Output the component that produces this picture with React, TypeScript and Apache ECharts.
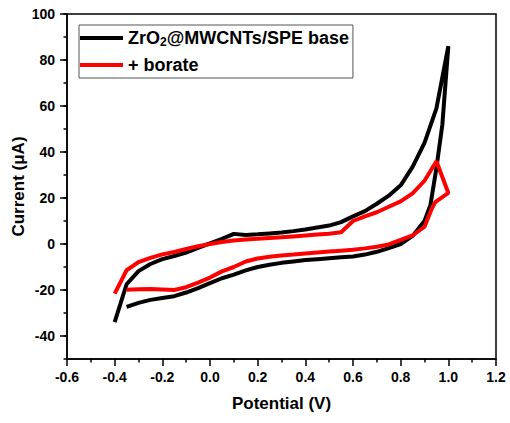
import React, { useEffect, useRef } from "react";
import * as echarts from "echarts";

const FONT = '"Liberation Sans", Arial, Helvetica, sans-serif';

const seriesNames = ["ZrO2@MWCNTs/SPE base", "+ borate"];

const blackV = [
  -0.35, -0.3, -0.25, -0.2, -0.15, -0.1, -0.05, 0, 0.05, 0.1, 0.15, 0.2, 0.25, 0.3, 0.35, 0.4, 0.45, 0.5, 0.55, 0.6,
  0.65, 0.7, 0.75, 0.8, 0.85, 0.9, 0.925, 0.95, 0.975, 1.0,
  0.95, 0.9, 0.85, 0.8, 0.75, 0.7, 0.65, 0.6, 0.55, 0.5, 0.45, 0.4, 0.35, 0.3, 0.25, 0.2, 0.15, 0.1, 0.05, 0,
  -0.05, -0.1, -0.15, -0.2, -0.25, -0.3, -0.35, -0.4,
];
const blackI = [
  -27.3, -25.6, -24.3, -23.5, -22.7, -21.1, -19.2, -17, -14.9, -13.3, -11.5, -10, -9, -8.2, -7.6, -7, -6.6, -6.2, -5.8, -5.4,
  -4.6, -3.4, -1.8, 0, 3.5, 10, 17, 33, 52, 86,
  59, 44, 33.5, 25.5, 21, 17.5, 14.3, 12, 9.5, 8, 7.2, 6.3, 5.6, 5, 4.6, 4.2, 3.9, 4.4, 2.2, 0.3,
  -1.7, -3.7, -5.2, -6.6, -8.7, -11.8, -17.5, -34,
];

const redV = [
  -0.35, -0.3, -0.25, -0.2, -0.15, -0.1, -0.05, 0, 0.05, 0.1, 0.15, 0.2, 0.25, 0.3, 0.35, 0.4, 0.45, 0.5, 0.55, 0.6,
  0.65, 0.7, 0.75, 0.8, 0.85, 0.9, 0.93, 0.945, 1.0,
  0.95, 0.9, 0.85, 0.8, 0.75, 0.7, 0.65, 0.6, 0.55, 0.5, 0.45, 0.4, 0.35, 0.3, 0.25, 0.2, 0.15, 0.1, 0.05, 0,
  -0.05, -0.1, -0.15, -0.2, -0.25, -0.3, -0.35, -0.4,
];
const redI = [
  -19.9, -19.7, -19.6, -19.8, -20, -18.8, -16.8, -14.6, -11.9, -10, -7.6, -6.3, -5.5, -5, -4.6, -4.1, -3.7, -3.3, -2.9, -2.5,
  -1.9, -1.2, -0.2, 1.8, 3.7, 7.5, 15.2, 18.2, 22.2,
  36, 27.5, 22, 18.5, 16.2, 13.8, 12, 10, 5.1, 4.5, 4.1, 3.7, 3.3, 2.9, 2.6, 2.3, 2, 1.5, 0.9, 0,
  -1, -2.2, -3.5, -4.5, -6, -7.9, -11.4, -21.6,
];

const xMin = -0.6;
const xMax = 1.2;
const xStep = 0.2;
const yMin = -50;
const yMax = 100;
const yLabelMin = -40;
const yLabelStep = 20;

const pairs = (xs: number[], ys: number[]) => xs.map((x, i) => [x, ys[i]]);

export default function App() {
  const ref = useRef<HTMLDivElement>(null);
  useEffect(() => {
    if (!ref.current) return;
    const chart = echarts.init(ref.current, undefined, { renderer: "svg" });
    const H = 423;
    const gridTop = 14;
    const gridBottom = 64;
    const plotH = H - gridTop - gridBottom;
    const yOfLabelMin = gridTop + ((yMax - yLabelMin) / (yMax - yMin)) * plotH;
    const labelStyle = { color: "#000", fontSize: 14, fontWeight: "bold" as const, fontFamily: FONT };
    const nameStyle = { color: "#000", fontSize: 17, fontWeight: "bold" as const, fontFamily: FONT };
    const lineStyleAxis = { color: "#000", width: 1.5 };
    chart.setOption({
      animation: false,
      backgroundColor: "#fff",
      grid: [
        { left: 67, right: 14, top: gridTop, bottom: gridBottom, show: true, borderColor: "#000", borderWidth: 1.5, backgroundColor: "transparent" },
        { left: 67, right: 14, top: gridTop, bottom: H - yOfLabelMin, show: false },
      ],
      legend: {
        orient: "vertical",
        left: 79,
        top: 25,
        padding: [3, 4, 3, 1],
        itemGap: 7,
        itemWidth: 43,
        itemHeight: 4,
        icon: "rect",
        backgroundColor: "#fff",
        borderColor: "#555",
        borderWidth: 1,
        data: seriesNames,
        formatter: (name: string) => (name === seriesNames[0] ? "ZrO{sub|2}@MWCNTs/SPE base" : name),
        textStyle: {
          color: "#000",
          fontSize: 18,
          fontWeight: "bold",
          fontFamily: FONT,
          lineHeight: 20,
          rich: {
            sub: { fontSize: 12, lineHeight: 12, verticalAlign: "bottom", fontWeight: "bold", fontFamily: FONT, color: "#000" },
          },
        },
      },
      xAxis: [
        {
          type: "value",
          gridIndex: 0,
          min: xMin,
          max: xMax,
          interval: xStep,
          name: "Potential (V)",
          nameLocation: "middle",
          nameGap: 36,
          nameTextStyle: nameStyle,
          axisLine: { show: true, onZero: false, lineStyle: lineStyleAxis },
          axisTick: { show: true, length: 7, lineStyle: lineStyleAxis },
          minorTick: { show: true, splitNumber: 2, length: 3.5, lineStyle: lineStyleAxis },
          splitLine: { show: false },
          minorSplitLine: { show: false },
          axisLabel: { ...labelStyle, margin: 11, formatter: (v: number) => v.toFixed(1) },
        },
        { type: "value", gridIndex: 1, min: xMin, max: xMax, show: false, axisLine: { onZero: false } },
      ],
      yAxis: [
        {
          type: "value",
          gridIndex: 0,
          min: yMin,
          max: yMax,
          interval: 10,
          name: "Current (μA)",
          nameLocation: "middle",
          nameGap: 40,
          nameTextStyle: nameStyle,
          axisLine: { show: true, onZero: false, lineStyle: lineStyleAxis },
          axisTick: { show: true, length: 3.5, lineStyle: lineStyleAxis },
          axisLabel: { show: false },
          splitLine: { show: false },
        },
        {
          type: "value",
          gridIndex: 1,
          min: yLabelMin,
          max: yMax,
          interval: yLabelStep,
          axisLine: { show: false, onZero: false },
          axisTick: { show: true, length: 7, lineStyle: lineStyleAxis },
          axisLabel: { ...labelStyle, margin: 12 },
          splitLine: { show: false },
        },
      ],
      series: [
        {
          name: seriesNames[0],
          type: "line",
          xAxisIndex: 0,
          yAxisIndex: 0,
          data: pairs(blackV, blackI),
          showSymbol: false,
          symbol: "none",
          color: "#000",
          lineStyle: { color: "#000", width: 4 },
          z: 2,
        },
        {
          name: seriesNames[1],
          type: "line",
          xAxisIndex: 0,
          yAxisIndex: 0,
          data: pairs(redV, redI),
          showSymbol: false,
          symbol: "none",
          color: "#ff0000",
          lineStyle: { color: "#ff0000", width: 4 },
          z: 3,
        },
      ],
    });
    return () => chart.dispose();
  }, []);
  return <div ref={ref} style={{ width: 510, height: 423, position: "absolute", left: 0, top: 0 }} />;
}
